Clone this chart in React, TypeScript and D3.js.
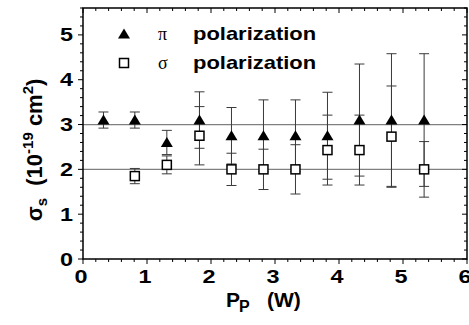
import React from "react";
import * as d3 from "d3";

const xPi = [0.32, 0.81, 1.31, 1.82, 2.32, 2.82, 3.32, 3.82, 4.32, 4.82, 5.33];
const yPi = [3.1, 3.1, 2.6, 3.1, 2.75, 2.75, 2.75, 2.75, 3.1, 3.1, 3.1];
const ePi = [0.18, 0.18, 0.27, 0.63, 0.63, 0.8, 0.8, 0.97, 1.25, 1.48, 1.48];

const xSig = [0.81, 1.31, 1.82, 2.32, 2.82, 3.32, 3.82, 4.32, 4.82, 5.33];
const ySig = [1.85, 2.1, 2.75, 2.0, 2.0, 2.0, 2.43, 2.43, 2.73, 2.0];
const eSig = [0.17, 0.2, 0.65, 0.36, 0.45, 0.55, 0.78, 0.78, 1.13, 0.62];

const refLines = [3, 2];
const xTicks = [0, 1, 2, 3, 4, 5, 6];
const yTicks = [0, 1, 2, 3, 4, 5];
const legendLabels = ["\u03c0", "\u03c3"];

const W = 469;
const H = 325;
const L = 83;
const R = 467;
const T = 8;
const B = 259;

export default function App() {
  const x = d3.scaleLinear().domain([0, 6]).range([L, R]);
  const y = d3.scaleLinear().domain([0, 5.6]).range([B, T]);
  const minorX = d3.range(0, 6.001, 0.2);
  const minorY = d3.range(0, 5.601, 0.2);
  const font = "Liberation Sans, Arial, sans-serif";
  const capW = 5;
  const isMajor = (v: number) => Math.abs(v - Math.round(v)) < 1e-6;
  const triPath = (cx: number, cy: number) =>
    `M${cx - 6},${cy + 4.5}L${cx + 6},${cy + 4.5}L${cx},${cy - 5.5}Z`;

  const errBar = (xv: number, yv: number, e: number, k: string) => (
    <g key={k} stroke="#3a3a3a" strokeWidth={1}>
      <line x1={x(xv)} x2={x(xv)} y1={y(yv - e)} y2={y(yv + e)} />
      <line x1={x(xv) - capW} x2={x(xv) + capW} y1={y(yv - e)} y2={y(yv - e)} />
      <line x1={x(xv) - capW} x2={x(xv) + capW} y1={y(yv + e)} y2={y(yv + e)} />
    </g>
  );

  return (
    <svg width={W} height={H} style={{ position: "absolute", left: 0, top: 0, background: "#fff" }}>
      <rect x={0} y={0} width={W} height={H} fill="#fff" />
      {refLines.map((v) => (
        <line key={v} x1={L} x2={R} y1={y(v)} y2={y(v)} stroke="#808080" strokeWidth={1.2} />
      ))}
      <rect x={L} y={T} width={R - L} height={B - T} fill="none" stroke="#000" strokeWidth={1.5} />
      {minorX.map((v, i) => (
        <g key={"mx" + i} stroke="#000" strokeWidth={1}>
          <line x1={x(v)} x2={x(v)} y1={B} y2={B + (isMajor(v) ? 5 : 3)} />
          <line x1={x(v)} x2={x(v)} y1={T} y2={T + (isMajor(v) ? 5 : 3)} />
        </g>
      ))}
      {minorY.map((v, i) => (
        <g key={"my" + i} stroke="#000" strokeWidth={1}>
          <line x1={L} x2={L - (isMajor(v) ? 5 : 3)} y1={y(v)} y2={y(v)} />
          <line x1={R} x2={R - (isMajor(v) ? 5 : 3)} y1={y(v)} y2={y(v)} />
        </g>
      ))}
      {xTicks.map((v) => (
        <text key={"xt" + v} transform={`translate(${x(v) - 2},283) scale(1.3,1)`} textAnchor="middle" fontFamily={font} fontSize={18} fontWeight="bold">
          {v}
        </text>
      ))}
      {yTicks.map((v) => (
        <text key={"yt" + v} transform={`translate(${L - 10},${y(v) + 6.5}) scale(1.3,1)`} textAnchor="end" fontFamily={font} fontSize={18} fontWeight="bold">
          {v}
        </text>
      ))}
      {xSig.map((v, i) => errBar(v, ySig[i], eSig[i], "es" + i))}
      {xPi.map((v, i) => errBar(v, yPi[i], ePi[i], "ep" + i))}
      {xSig.map((v, i) => (
        <rect key={"s" + i} x={x(v) - 4.5} y={y(ySig[i]) - 4.5} width={9} height={9} fill="#fff" stroke="#000" strokeWidth={1.5} />
      ))}
      {xPi.map((v, i) => (
        <path key={"p" + i} d={triPath(x(v), y(yPi[i]))} fill="#000" />
      ))}
      {/* legend */}
      <path d={triPath(124, 34)} fill="#000" />
      <rect x={119.5} y={58.5} width={9} height={9} fill="#fff" stroke="#000" strokeWidth={1.5} />
      {legendLabels.map((s, i) => (
        <g key={"lg" + i}>
          <text x={158} y={40 + i * 29} fontFamily="Liberation Serif, serif" fontSize={18}>
            {s}
          </text>
          <text transform={`translate(193,${40 + i * 29}) scale(1.22,1)`} fontFamily={font} fontSize={18} fontWeight="bold">
            polarization
          </text>
        </g>
      ))}
      {/* x label */}
      <text x={226} y={307} fontFamily={font} fontSize={21} fontWeight="bold">
        P
      </text>
      <text x={239} y={312} fontFamily={font} fontSize={16} fontWeight="bold">
        P
      </text>
      <text x={267} y={307} fontFamily={font} fontSize={21} fontWeight="bold">
        (W)
      </text>
      {/* y label */}
      <text transform="translate(42,150) rotate(-90)" textAnchor="middle" fontFamily={font} fontSize={22} fontWeight="bold" xmlSpace="preserve">
        {"\u03c3"}
        <tspan fontSize={15} dy={5}>s</tspan>
        <tspan dy={-5}>{"  (10"}</tspan>
        <tspan fontSize={15} dy={-9}>-19</tspan>
        <tspan dy={9}>{" cm"}</tspan>
        <tspan fontSize={15} dy={-9}>2</tspan>
        <tspan dy={9}>)</tspan>
      </text>
    </svg>
  );
}
